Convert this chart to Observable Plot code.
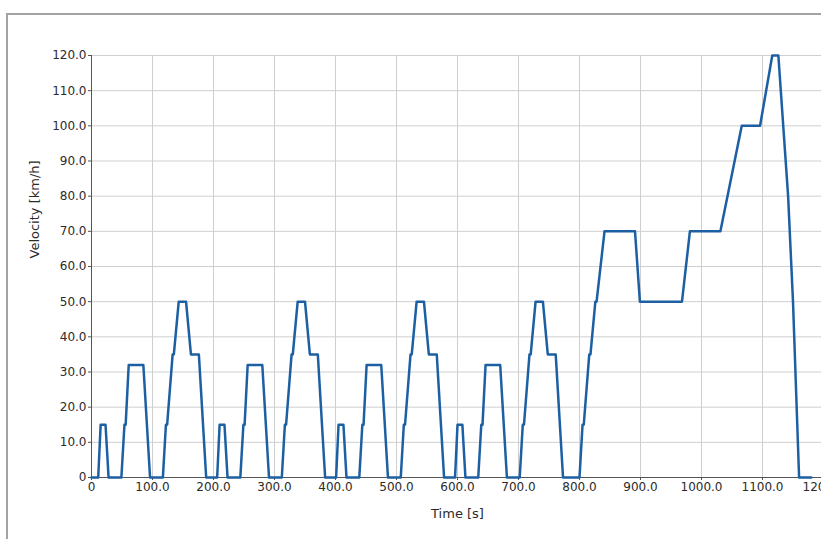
<!DOCTYPE html>
<html>
<head>
<meta charset="utf-8">
<script src="https://cdn.jsdelivr.net/npm/d3@7"></script>
<script src="https://cdn.jsdelivr.net/npm/@observablehq/plot@0.6"></script>
<style>
  html, body { margin: 0; padding: 0; background: #fff; overflow: hidden; width: 821px; height: 539px; }
  #frame { position: absolute; left: 6px; top: 13px; width: 900px; height: 600px; border-top: 2px solid #a3a3a3; border-left: 2px solid #a3a3a3; }
  #chart { position: absolute; left: 0; top: 0; width: 850px; }
  #chart svg { max-width: none !important; }
</style>
</head>
<body>
<div id="frame"></div>
<div id="chart"></div>
<script>
// NEDC velocity profile breakpoints (time in s, velocity in km/h)
const timeS = [
  0, 11, 15, 23, 28, 49, 54, 56, 61, 85, 96, 117, 122, 124, 133, 135, 143, 155, 163, 176, 188, 195,
  206, 210, 218, 223, 244, 249, 251, 256, 280, 291, 312, 317, 319, 328, 330, 338, 350, 358, 371, 383, 390,
  401, 405, 413, 418, 439, 444, 446, 451, 475, 486, 507, 512, 514, 523, 525, 533, 545, 553, 566, 578, 585,
  596, 600, 608, 613, 634, 639, 641, 646, 670, 681, 702, 707, 709, 718, 720, 728, 740, 748, 761, 773, 780,
  800, 805, 807, 816, 818, 826, 828, 841, 891, 899, 968, 981, 1031, 1066, 1096, 1116, 1126, 1142, 1150, 1160, 1180
];
const velocityKmh = [
  0, 0, 15, 15, 0, 0, 15, 15, 32, 32, 0, 0, 15, 15, 35, 35, 50, 50, 35, 35, 0, 0,
  0, 15, 15, 0, 0, 15, 15, 32, 32, 0, 0, 15, 15, 35, 35, 50, 50, 35, 35, 0, 0,
  0, 15, 15, 0, 0, 15, 15, 32, 32, 0, 0, 15, 15, 35, 35, 50, 50, 35, 35, 0, 0,
  0, 15, 15, 0, 0, 15, 15, 32, 32, 0, 0, 15, 15, 35, 35, 50, 50, 35, 35, 0, 0,
  0, 15, 15, 35, 35, 50, 50, 70, 70, 50, 50, 70, 70, 100, 100, 120, 120, 80, 50, 0, 0
];
const xTicks = [0, 100, 200, 300, 400, 500, 600, 700, 800, 900, 1000, 1100, 1200];
const yTicks = [0, 10, 20, 30, 40, 50, 60, 70, 80, 90, 100, 110, 120];

const data = timeS.map((t, i) => ({t, v: velocityKmh[i]}));
const fmt = d => d === 0 ? "0" : d.toFixed(1);

const chart = Plot.plot({
  width: 850,
  height: 539,
  marginLeft: 91,
  marginRight: 27,
  marginTop: 55,
  marginBottom: 62,
  style: {fontFamily: "DejaVu Sans, sans-serif", fontSize: "12px", color: "#2b2b2b", background: "transparent", overflow: "visible", maxWidth: "none"},
  x: {domain: [0, 1200]},
  y: {domain: [0, 120]},
  marks: [
    Plot.gridX(xTicks, {stroke: "#cfcfcf", strokeOpacity: 1}),
    Plot.gridY(yTicks, {stroke: "#cfcfcf", strokeOpacity: 1}),
    Plot.axisY(yTicks, {tickFormat: fmt, tickSize: 3, tickPadding: 2, stroke: "#555", fill: "#2b2b2b",
      label: null}),
    Plot.axisX(xTicks, {tickFormat: fmt, tickSize: 3, tickPadding: 2, stroke: "#555", fill: "#2b2b2b",
      label: null}),
    Plot.text(["Velocity [km/h]"], {frameAnchor: "left", dx: -57, dy: -8, rotate: -90, fontSize: 13, fill: "#2b2b2b"}),
    Plot.text(["Time [s]"], {frameAnchor: "bottom", dy: 40, fontSize: 13, fill: "#2b2b2b"}),
    Plot.ruleX([0], {stroke: "#555"}),
    Plot.ruleY([0], {stroke: "#555"}),
    Plot.line(data, {x: "t", y: "v", stroke: "#1d5fa3", strokeWidth: 2.5, strokeLinejoin: "round", strokeLinecap: "round"})
  ]
});
document.getElementById("chart").appendChild(chart);
</script>
</body>
</html>
